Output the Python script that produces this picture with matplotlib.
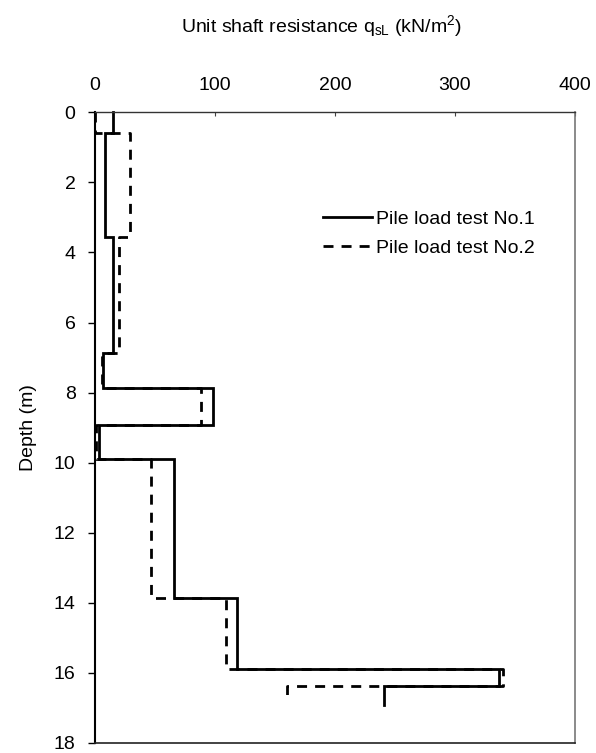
import matplotlib
matplotlib.use("Agg")
import matplotlib.pyplot as plt

plt.rcParams['font.family'] = ['Liberation Sans', 'DejaVu Sans']
plt.rcParams['mathtext.default'] = 'regular'

# layer tops (m), last entry is the pile toe; values are q_sL (kN/m2)
depth_1 = [0, 0.6, 3.57, 6.88, 7.87, 8.92, 9.89, 13.87, 15.89, 16.38, 16.91]
qs_1 = [15, 8, 15, 7, 98, 3, 66, 118, 337, 241]

depth_2 = [0, 0.6, 3.55, 6.88, 7.87, 8.92, 9.89, 13.87, 15.89, 16.38, 16.63]
qs_2 = [0, 29, 20, 6, 88, 1, 47, 109, 340, 160]

labels = ['Pile load test No.1', 'Pile load test No.2']


def profile(depths, values):
    # turn layered values into a stepped outline (x = q, y = depth)
    xs, ys = [], []
    for i, q in enumerate(values):
        xs += [q, q]
        ys += [depths[i], depths[i + 1]]
    return xs, ys


fig = plt.figure(figsize=(5.96, 7.53), dpi=100)
ax = fig.add_axes([0.1594, 0.0133, 0.8054, 0.8376])

x1, y1 = profile(depth_1, qs_1)
x2, y2 = profile(depth_2, qs_2)
ax.plot(x1, y1, color='black', lw=2.0, solid_joinstyle='miter',
        label=labels[0], clip_on=False)
ax.plot(x2, y2, color='black', lw=2.0, linestyle=(0, (3.6, 2.9)),
        label=labels[1], clip_on=False)

ax.set_xlim(0, 400)
ax.set_ylim(18, 0)
ax.set_xticks(range(0, 401, 100))
ax.set_yticks(range(0, 19, 2))

ax.xaxis.tick_top()
ax.tick_params(axis='x', direction='in', length=3, width=0.8, color='#444',
               pad=13, labelsize=14)
ax.tick_params(axis='y', direction='out', length=5, width=1.0, pad=9,
               labelsize=14)

ax.spines['left'].set_linewidth(1.5)
ax.spines['bottom'].set_linewidth(1.2)
ax.spines['bottom'].set_color('#222')
ax.spines['right'].set_linewidth(1.2)
ax.spines['right'].set_color('#777')
ax.spines['top'].set_linewidth(1.0)
ax.spines['top'].set_color('#333')
ax.spines['top'].set_linestyle((0, (2, 1)))

ax.set_ylabel('Depth (m)', fontsize=14, labelpad=12)
fig.text(0.54, 1 - 32 / 753,
         'Unit shaft resistance q$_{sL}$ (kN/m$^{2}$)',
         ha='center', va='baseline', fontsize=14)

ax.legend(loc='upper left', bbox_to_anchor=(0.475, 0.845), frameon=False,
          fontsize=14, handlelength=2.5, handletextpad=0.2,
          labelspacing=0.6, borderpad=0, borderaxespad=0)

fig.savefig('out.png', dpi=100)
